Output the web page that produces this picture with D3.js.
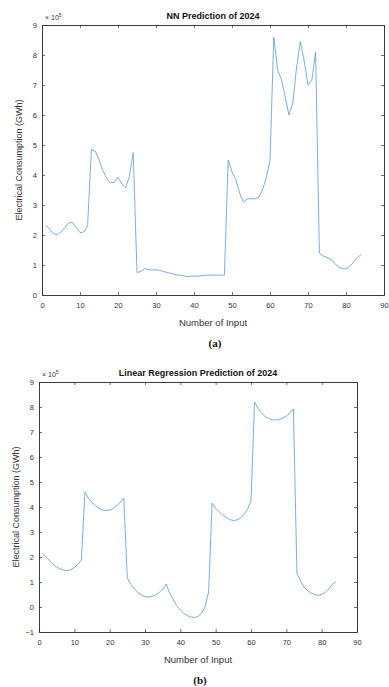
<!DOCTYPE html>
<html>
<head>
<meta charset="utf-8">
<script src="https://cdn.jsdelivr.net/npm/d3@7"></script>
<style>
  body { margin: 0; background: #fff; }
  svg { display: block; font-family: "Liberation Sans", Arial, sans-serif; }
  .tick text { fill: #333; font-size: 7.5px; }
  .tick line { stroke: #333; stroke-width: 0.7; }
  .domain { stroke: #262626; stroke-width: 0.9; }
</style>
</head>
<body>
<svg id="chart" width="389" height="687"></svg>
<script>
// x = input index 1..84, values in units of 1e5 GWh
const inputs = d3.range(1, 85);

const nnValues = [
  2.33, 2.2, 2.05, 2.0, 2.1, 2.25, 2.4, 2.42, 2.25, 2.08,
  2.1, 2.3, 4.85, 4.8, 4.5, 4.15, 3.9, 3.75, 3.75, 3.92,
  3.7, 3.58, 3.95, 4.75, 0.75, 0.78, 0.88, 0.85, 0.83, 0.84,
  0.82, 0.78, 0.75, 0.72, 0.68, 0.66, 0.65, 0.62, 0.62, 0.63,
  0.63, 0.64, 0.66, 0.66, 0.67, 0.66, 0.66, 0.66, 4.5, 4.1,
  3.85, 3.4, 3.1, 3.2, 3.22, 3.2, 3.25, 3.5, 3.9, 4.5,
  8.6, 7.5, 7.2, 6.6, 6.0, 6.4, 7.6, 8.45, 7.8, 7.0,
  7.15, 8.1, 1.4, 1.3, 1.25, 1.2, 1.05, 0.95, 0.88, 0.87,
  0.95, 1.1, 1.25, 1.35
];

const lrValues = [
  2.15, 2.0, 1.85, 1.7, 1.6, 1.52, 1.48, 1.46, 1.5, 1.58,
  1.7, 1.88, 4.6, 4.35, 4.18, 4.05, 3.95, 3.88, 3.86, 3.88,
  3.95, 4.05, 4.18, 4.35, 1.15, 0.9, 0.72, 0.58, 0.48, 0.42,
  0.4, 0.42, 0.48, 0.58, 0.72, 0.92, 0.55, 0.3, 0.05, -0.12,
  -0.25, -0.35, -0.4, -0.42, -0.38, -0.25, 0.0, 0.6, 4.15, 3.95,
  3.8, 3.68, 3.58, 3.5, 3.46, 3.48, 3.55, 3.7, 3.9, 4.25,
  8.2, 7.95, 7.75, 7.62, 7.54, 7.49, 7.48, 7.5, 7.55, 7.64,
  7.76, 7.92, 1.35, 1.05, 0.8, 0.66, 0.56, 0.5, 0.47, 0.5,
  0.58, 0.72, 0.9, 1.0
];

const xTicks = d3.range(0, 100, 10);
const nnYTicks = d3.range(0, 10);
const lrYTicks = d3.range(-1, 10);

const svg = d3.select('#chart');
svg.append('rect').attr('width', 389).attr('height', 687).attr('fill', '#fff');

function panel(opt) {
  const x = d3.scaleLinear().domain([0, 90]).range([opt.left, opt.right]);
  const y = d3.scaleLinear().domain(opt.yDomain).range([opt.bottom, opt.top]);
  const g = svg.append('g');

  // inward ticks on all four sides, labels only bottom/left
  g.append('g').attr('transform', `translate(0,${opt.bottom})`)
    .call(d3.axisBottom(x).tickValues(xTicks).tickSizeInner(-3).tickSizeOuter(0).tickPadding(8));
  g.append('g').attr('transform', `translate(0,${opt.top})`)
    .call(d3.axisTop(x).tickValues(xTicks).tickSizeInner(-3).tickSizeOuter(0).tickFormat(''));
  g.append('g').attr('transform', `translate(${opt.left},0)`)
    .call(d3.axisLeft(y).tickValues(opt.yTicks).tickSizeInner(-3).tickSizeOuter(0).tickPadding(5));
  g.append('g').attr('transform', `translate(${opt.right},0)`)
    .call(d3.axisRight(y).tickValues(opt.yTicks).tickSizeInner(-3).tickSizeOuter(0).tickFormat(''));

  const line = d3.line().x((d, i) => x(inputs[i])).y(d => y(d));
  g.append('path').datum(opt.values)
    .attr('fill', 'none')
    .attr('stroke', '#5a9ad4')
    .attr('stroke-width', 0.8)
    .attr('d', line);

  const mid = (opt.left + opt.right) / 2;
  g.append('text').attr('x', mid).attr('y', opt.top - 6)
    .attr('text-anchor', 'middle').attr('font-size', 9).attr('font-weight', 'bold')
    .attr('fill', '#111').text(opt.title);

  const ex = g.append('text').attr('x', opt.left + 3).attr('y', opt.top - 5)
    .attr('font-size', 7).attr('fill', '#333');
  ex.append('tspan').text('\u00d7 10');
  ex.append('tspan').attr('dy', -3).attr('font-size', 5).text('5');

  g.append('text').attr('x', mid).attr('y', opt.bottom + 31)
    .attr('text-anchor', 'middle').attr('font-size', 9.5).attr('fill', '#333')
    .text('Number of Input');

  g.append('text')
    .attr('transform', `translate(${opt.ylabX},${(opt.top + opt.bottom) / 2}) rotate(-90)`)
    .attr('text-anchor', 'middle').attr('font-size', 9).attr('fill', '#333')
    .text('Electrical Consumption (GWh)');

  g.append('text').attr('x', mid + 2).attr('y', opt.bottom + 52)
    .attr('text-anchor', 'middle').attr('font-size', 11).attr('font-weight', 'bold')
    .attr('font-family', '"Liberation Serif", "Times New Roman", serif')
    .attr('fill', '#111').text(opt.tag);
}

panel({
  left: 42, right: 384, top: 25, bottom: 295,
  yDomain: [0, 9], yTicks: nnYTicks, values: nnValues,
  title: 'NN Prediction of 2024', tag: '(a)', ylabX: 22
});

panel({
  left: 39, right: 357, top: 382, bottom: 632,
  yDomain: [-1, 9], yTicks: lrYTicks, values: lrValues,
  title: 'Linear Regression Prediction of 2024', tag: '(b)', ylabX: 19
});
</script>
</body>
</html>
